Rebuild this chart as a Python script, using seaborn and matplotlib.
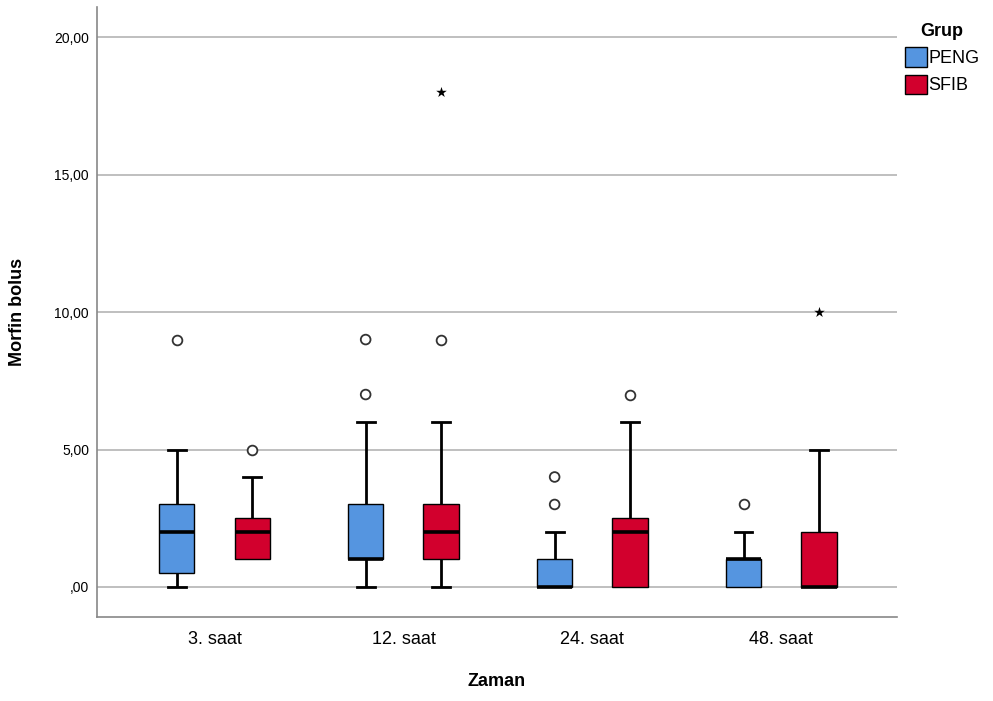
import numpy as np
import pandas as pd
import matplotlib
matplotlib.use("Agg")
import matplotlib.pyplot as plt
import seaborn as sns

# ============================================
# DATA
# ============================================
times = ["3. saat", "12. saat", "24. saat", "48. saat"]
groups = ["PENG", "SFIB"]

# five-number summaries per group: whisker low, Q1, median, Q3, whisker high
peng_lo = [0, 0, 0, 0]
peng_q1 = [0.5, 1, 0, 0]
peng_med = [2, 1, 0, 1]
peng_q3 = [3, 3, 1, 1]
peng_hi = [5, 6, 2, 2]

sfib_lo = [1, 0, 0, 0]
sfib_q1 = [1, 1, 0, 0]
sfib_med = [2, 2, 2, 0]
sfib_q3 = [2.5, 3, 2.5, 2]
sfib_hi = [4, 6, 6, 5]

# outliers (circles) and extremes (stars)
out_time = ["3. saat", "3. saat", "12. saat", "12. saat", "12. saat", "24. saat", "24. saat", "24. saat", "48. saat"]
out_group = ["PENG", "SFIB", "PENG", "PENG", "SFIB", "PENG", "PENG", "SFIB", "PENG"]
out_value = [9, 5, 9, 7, 9, 4, 3, 7, 3]

ext_time = ["12. saat", "48. saat"]
ext_group = ["SFIB", "SFIB"]
ext_value = [18, 10]

colors = {"PENG": "#5595e0", "SFIB": "#d2002d"}

# ============================================
# BUILD LONG TABLE
# ============================================
rows = []
for i, t in enumerate(times):
    for g, arrs in (("PENG", (peng_lo, peng_q1, peng_med, peng_q3, peng_hi)),
                    ("SFIB", (sfib_lo, sfib_q1, sfib_med, sfib_q3, sfib_hi))):
        for a in arrs:
            rows.append({"Zaman": t, "Grup": g, "val": a[i]})
df = pd.DataFrame(rows)
df_out = pd.DataFrame({"Zaman": out_time, "Grup": out_group, "val": out_value})
df_ext = pd.DataFrame({"Zaman": ext_time, "Grup": ext_group, "val": ext_value})

# ============================================
# PLOT
# ============================================
plt.rcParams["font.family"] = ["Liberation Sans", "DejaVu Sans"]
fig = plt.figure(figsize=(9.93, 7.01), dpi=100)
ax = fig.add_axes([0.098, 0.12, 0.805, 0.87])

sns.boxplot(data=df, x="Zaman", y="val", hue="Grup", order=times, hue_order=groups,
            palette=colors, width=0.8, gap=0.53, whis=(0, 100), showfliers=False,
            linecolor="black", linewidth=1.0,
            medianprops=dict(linewidth=2.6, color="black"),
            whiskerprops=dict(linewidth=2.0),
            capprops=dict(linewidth=2.0),
            saturation=1, ax=ax)

# SPSS draws no cap where a whisker has zero length
zero_whiskers = []
for ln in ax.lines:
    xd, yd = np.asarray(ln.get_xdata(), float), np.asarray(ln.get_ydata(), float)
    if len(xd) == 2 and np.isclose(xd[0], xd[1]) and np.isclose(yd[0], yd[1]):
        zero_whiskers.append((xd[0], yd[0]))
for ln in ax.lines:
    xd, yd = np.asarray(ln.get_xdata(), float), np.asarray(ln.get_ydata(), float)
    if len(xd) == 2 and np.isclose(yd[0], yd[1]) and abs(xd[1] - xd[0]) < 0.15:
        for wx, wy in zero_whiskers:
            if np.isclose((xd[0] + xd[1]) / 2, wx) and np.isclose(yd[0], wy):
                ln.set_visible(False)

sns.stripplot(data=df_out, x="Zaman", y="val", hue="Grup", order=times, hue_order=groups,
              palette={"PENG": "white", "SFIB": "white"}, dodge=True, jitter=False,
              marker="o", size=7, linewidth=1.3, edgecolor="#333333", legend=False, ax=ax)
sns.stripplot(data=df_ext, x="Zaman", y="val", hue="Grup", order=times, hue_order=groups,
              palette={"PENG": "black", "SFIB": "black"}, dodge=True, jitter=False,
              marker="*", size=8, legend=False, ax=ax)

ax.set_xlim(-0.62, 3.61)
ax.set_ylim(-1.09, 21.1)
ax.set_yticks([0, 5, 10, 15, 20])
ax.set_yticklabels([",00", "5,00", "10,00", "15,00", "20,00"], fontsize=10)
ax.tick_params(axis="x", labelsize=13, length=0, pad=10)
ax.tick_params(axis="y", length=0, pad=6)
ax.yaxis.grid(True, color="#b4b4b4", linewidth=1.2)
ax.set_axisbelow(True)
for s in ["top", "right"]:
    ax.spines[s].set_visible(False)
for s in ["left", "bottom"]:
    ax.spines[s].set_color("#888888")
    ax.spines[s].set_linewidth(1.2)

ax.set_xlabel("Zaman", fontsize=13, fontweight="bold", labelpad=18)
ax.set_ylabel("Morfin bolus", fontsize=13, fontweight="bold", labelpad=20)

sns.move_legend(ax, "upper left", bbox_to_anchor=(0.99, 1.0), title="Grup", frameon=False,
                fontsize=13, title_fontsize=13, handlelength=1.2, handleheight=1.3,
                handletextpad=0.1, labelspacing=0.4)
ax.get_legend().get_title().set_fontweight("bold")

fig.savefig("out.png", dpi=100)
